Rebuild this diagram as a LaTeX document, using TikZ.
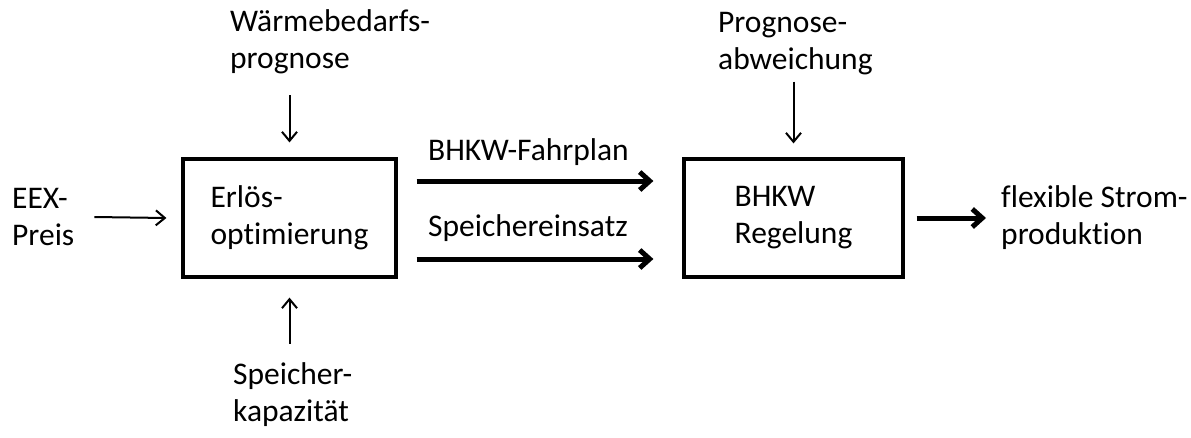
\documentclass[tikz,border=0pt]{standalone}
\usepackage{fontspec}
\setmainfont{Carlito}[Ligatures=NoCommon]
\usetikzlibrary{arrows.meta}
\begin{document}
\begin{tikzpicture}[x=1pt,y=-1pt,
    every node/.style={font=\fontsize{31.5}{37}\selectfont},
    lbl/.style={anchor=west, align=left, inner sep=0pt},
    blockbox/.style={rectangle, draw, line width=3.2pt, align=left, inner sep=0pt},
    thinarrow/.style={line width=2pt, -{Straight Barb[length=9pt,width=15pt]}},
    thickarrow/.style={line width=5pt, -{Straight Barb[length=10pt,width=18pt]}}]
        \useasboundingbox (0,0) rectangle (1191,437);

        \node[blockbox, minimum width=213pt, minimum height=118pt] (erloes) at(289.5,218){Erlös-\\optimierung};
        \node[blockbox, minimum width=219pt, minimum height=118pt] (regelung) at(793.5,218){BHKW\\Regelung};

        \node[lbl] (eex) at(12,217){EEX-\\Preis};
        \node[lbl] (waerme) at(230,42){Wärmebedarfs-\\prognose};
        \node[lbl] (speicher) at(233,395){Speicher-\\kapazität};
        \node[lbl] (fahrplan) at(428,152){BHKW-Fahrplan};
        \node[lbl] (einsatz) at(428,228){Speichereinsatz};
        \node[lbl] (prognose) at(718,44){Prognose-\\abweichung};
        \node[lbl] (strom) at(1001,218){flexible Strom-\\produktion};

        % inputs of the optimisation
        \draw [thinarrow] ([xshift=20pt]eex.east) -- ([xshift=-15pt]erloes.west);
        \draw [thinarrow] ([yshift=-21pt]waerme.south -| erloes.north) -- ([yshift=15pt]erloes.north);
        \draw [thinarrow] ([yshift=19pt]speicher.north -| erloes.south) -- ([yshift=-19pt]erloes.south);

        % schedules to the control
        \draw [thickarrow] ([shift={(19pt,37pt)}]erloes.east) -- ([shift={(-29pt,37pt)}]regelung.west);
        \draw [thickarrow] ([shift={(19pt,-41pt)}]erloes.east) -- ([shift={(-29pt,-41pt)}]regelung.west);

        \draw [thinarrow] ([yshift=-6pt]prognose.south -| regelung.north) -- ([yshift=14pt]regelung.north);
        \draw [thickarrow] ([xshift=12pt]regelung.east) -- ([xshift=-15pt]strom.west);
      \end{tikzpicture}
\end{document}
